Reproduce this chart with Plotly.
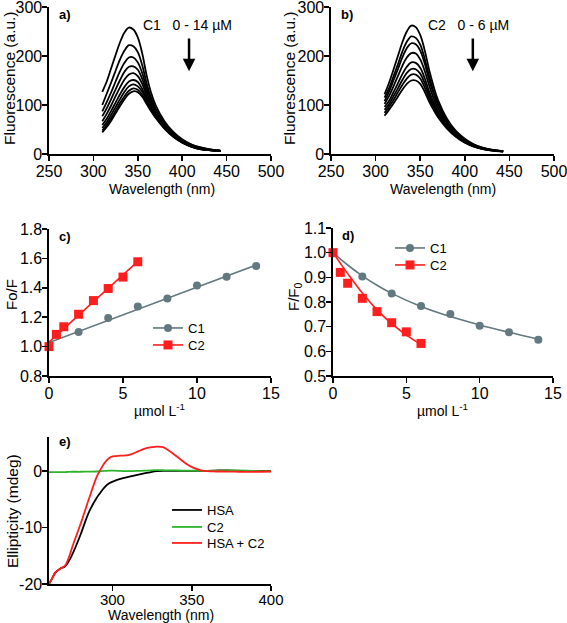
import plotly.graph_objects as go

W, H = 567, 623
FONT = "Liberation Sans, Arial, sans-serif"

# ---------------- Data ----------------
# Panel a: C1 titration emission spectra (0 - 14 uM)
wl = [310, 315, 320, 325, 330, 335, 340, 345, 350, 355, 360, 365, 370, 380, 390, 400, 410, 420, 430, 443]
a_spectra = [
    [127, 148, 175, 202, 228, 248, 258, 254, 238, 205, 160, 125, 100, 67, 45, 30, 20, 14, 10, 7],
    [100, 123, 146, 170, 193, 211, 222, 220, 208, 181, 144, 115, 93, 63, 42, 28, 19, 13, 9.5, 7],
    [87, 106, 126, 148, 169, 186, 197, 197, 187, 165, 134, 108, 88, 60, 40.5, 27, 18, 12, 9, 6.5],
    [77, 93, 112, 132, 151, 168, 178, 179, 172, 153, 126, 102, 85, 58, 39, 26, 17, 11.6, 8.8, 6.4],
    [67, 82, 99, 118, 136, 152, 162, 165, 159, 143, 119, 98, 82, 56, 38, 25, 16.5, 11, 8.6, 6.3],
    [59, 72, 88, 105, 122, 137, 148, 151, 147, 133, 113, 94, 79, 55, 37, 24, 16, 10.7, 8.4, 6.2],
    [53, 65, 80, 96, 112, 127, 138, 142, 138, 127, 108, 91, 77, 54, 36, 24, 15.5, 10.4, 8.2, 6.1],
    [48, 59, 73, 88.5, 104, 118, 129, 134, 131, 121, 105, 89, 75, 53, 35.5, 23.3, 15.2, 10.2, 8.1, 6],
    [44, 55, 68, 83, 98, 112, 123, 128, 126, 117, 102, 87, 74, 52, 35, 23, 15, 10, 8, 6],
]

# Panel b: C2 titration emission spectra (0 - 6 uM)
b_spectra = [
    [122, 145, 172, 200, 228, 250, 262, 259, 243, 212, 172, 138, 110, 72, 47, 31, 20, 13, 9, 6],
    [115, 134, 158, 183, 209, 229, 240, 237, 223, 195, 159, 128, 103, 68, 45, 29, 19, 12.4, 8.6, 5.8],
    [108, 127, 150, 173, 197, 216, 226, 224, 211, 185, 151, 123, 99, 66, 43, 28, 18.4, 12, 8.4, 5.7],
    [102, 118, 138, 159, 180, 197, 206, 205, 193, 170, 140, 114, 93, 62, 41, 27, 17.5, 11.5, 8, 5.5],
    [96, 108, 126, 144, 163, 178, 187, 186, 176, 155, 128, 106, 87, 59, 39, 25.6, 16.7, 11, 7.7, 5.3],
    [90, 101.5, 117.5, 134, 151, 165.5, 173.5, 173, 164, 145, 121, 100, 82, 56, 37.5, 24.7, 16, 10.6, 7.4, 5.2],
    [84, 96, 110, 126, 141, 154, 162, 162, 154, 136, 114, 95, 79, 54, 36, 24, 15.5, 10.3, 7.2, 5.1],
    [78, 90, 103, 117, 131, 143, 150, 150, 143, 127, 107, 90, 75, 52, 35, 23, 15, 10, 7, 5],
]

# Panel c: Stern-Volmer Fo/F
c1_conc = [0, 2, 4, 6, 8, 10, 12, 14]
c1_f0f = [1.00, 1.10, 1.195, 1.272, 1.327, 1.415, 1.476, 1.548]
c1_fit_x = [0, 14]
c1_fit_y = [1.028, 1.555]
c2_conc = [0, 0.5, 1, 2, 3, 4, 5, 6]
c2_f0f = [1.00, 1.083, 1.135, 1.22, 1.313, 1.395, 1.473, 1.577]
c2_fit_x = [0, 6]
c2_fit_y = [1.03, 1.58]

# Panel d: F/F0
c1_ff0 = [1.00, 0.903, 0.834, 0.784, 0.751, 0.704, 0.677, 0.647]
c1_ff0_fit_x = [0, 1, 2, 3, 4, 6, 8, 10, 12, 14]
c1_ff0_fit_y = [1.0, 0.95, 0.906, 0.868, 0.835, 0.782, 0.741, 0.707, 0.677, 0.649]
c2_ff0 = [1.00, 0.92, 0.876, 0.815, 0.761, 0.716, 0.679, 0.632]
c2_ff0_fit_x = [0, 0.5, 1, 2, 3, 4, 5, 6]
c2_ff0_fit_y = [1.0, 0.957, 0.915, 0.836, 0.768, 0.712, 0.666, 0.628]

# Panel e: CD spectra
cd_wl = [260, 262, 264, 267, 270, 272, 275, 280, 285, 290, 292, 295, 298, 301, 305, 310, 315, 320, 325,
         328, 332, 335, 340, 344, 348, 352, 356, 360, 365, 370, 375, 380, 390, 400]
cd_hsa = [-20, -19, -18, -17.3, -16.9, -16.2, -14.6, -11.2, -7.4, -4.8, -4.0, -2.9, -2.2, -1.8, -1.4, -1.05,
          -0.75, -0.45, -0.15, -0.05, 0, 0, 0, 0, 0, 0, 0, 0, 0.05, 0.1, 0.05, 0, 0, 0]
cd_c2 = [-0.2, -0.2, -0.2, -0.2, -0.2, -0.18, -0.15, -0.15, -0.12, -0.1, -0.05, 0, 0.05, 0.05, 0, -0.05,
         0, 0.05, 0.1, 0.15, 0.12, 0.1, 0.1, 0.05, 0.05, 0.05, 0, 0, 0.05, 0.05, 0.1, 0.1, 0, -0.05]
cd_mix = [-20, -19, -18, -17.3, -16.8, -15.7, -13.2, -9.3, -5.1, -1.1, 0, 1.4, 2.3, 2.6, 2.7, 2.8,
          3.3, 3.9, 4.2, 4.3, 4.2, 3.7, 2.7, 1.8, 1.0, 0.45, 0.1, -0.05, -0.1, -0.1, -0.12, -0.15, -0.15, -0.1]

GRAY = "#62797f"
RED = "#ff1e1e"
GREEN = "#2cb52c"

fig = go.Figure()

# ---- a ----
for s in a_spectra:
    fig.add_trace(go.Scatter(x=wl, y=s, mode="lines", line=dict(color="black", width=1.8, shape="spline"),
                             xaxis="x", yaxis="y", showlegend=False, hoverinfo="skip"))
# ---- b ----
for s in b_spectra:
    fig.add_trace(go.Scatter(x=wl, y=s, mode="lines", line=dict(color="black", width=1.8, shape="spline"),
                             xaxis="x2", yaxis="y2", showlegend=False, hoverinfo="skip"))

# ---- c ----
fig.add_trace(go.Scatter(x=c1_fit_x, y=c1_fit_y, mode="lines", line=dict(color=GRAY, width=1.6),
                         xaxis="x3", yaxis="y3", showlegend=False))
fig.add_trace(go.Scatter(x=c1_conc, y=c1_f0f, mode="markers", marker=dict(color=GRAY, size=8, symbol="circle"),
                         xaxis="x3", yaxis="y3", showlegend=False, cliponaxis=False))
fig.add_trace(go.Scatter(x=c2_fit_x, y=c2_fit_y, mode="lines", line=dict(color=RED, width=1.6),
                         xaxis="x3", yaxis="y3", showlegend=False))
fig.add_trace(go.Scatter(x=c2_conc, y=c2_f0f, mode="markers", marker=dict(color=RED, size=9, symbol="square"),
                         xaxis="x3", yaxis="y3", showlegend=False, cliponaxis=False))
fig.add_trace(go.Scatter(x=[None], y=[None], mode="lines+markers", name="C1",
                         line=dict(color=GRAY, width=1.6), marker=dict(color=GRAY, size=8, symbol="circle"),
                         xaxis="x3", yaxis="y3", legend="legend"))
fig.add_trace(go.Scatter(x=[None], y=[None], mode="lines+markers", name="C2",
                         line=dict(color=RED, width=1.6), marker=dict(color=RED, size=9, symbol="square"),
                         xaxis="x3", yaxis="y3", legend="legend2"))

# ---- d ----
fig.add_trace(go.Scatter(x=c1_ff0_fit_x, y=c1_ff0_fit_y, mode="lines", line=dict(color=GRAY, width=1.6, shape="spline"),
                         xaxis="x4", yaxis="y4", showlegend=False))
fig.add_trace(go.Scatter(x=c1_conc, y=c1_ff0, mode="markers", marker=dict(color=GRAY, size=8, symbol="circle"),
                         xaxis="x4", yaxis="y4", showlegend=False, cliponaxis=False))
fig.add_trace(go.Scatter(x=c2_ff0_fit_x, y=c2_ff0_fit_y, mode="lines", line=dict(color=RED, width=1.6, shape="spline"),
                         xaxis="x4", yaxis="y4", showlegend=False))
fig.add_trace(go.Scatter(x=c2_conc, y=c2_ff0, mode="markers", marker=dict(color=RED, size=9, symbol="square"),
                         xaxis="x4", yaxis="y4", showlegend=False, cliponaxis=False))
fig.add_trace(go.Scatter(x=[None], y=[None], mode="lines+markers", name="C1",
                         line=dict(color=GRAY, width=1.6), marker=dict(color=GRAY, size=8, symbol="circle"),
                         xaxis="x4", yaxis="y4", legend="legend3"))
fig.add_trace(go.Scatter(x=[None], y=[None], mode="lines+markers", name="C2",
                         line=dict(color=RED, width=1.6), marker=dict(color=RED, size=9, symbol="square"),
                         xaxis="x4", yaxis="y4", legend="legend4"))

# ---- e ----
fig.add_trace(go.Scatter(x=cd_wl, y=cd_hsa, mode="lines", name="HSA", line=dict(color="black", width=1.8, shape="spline"),
                         xaxis="x5", yaxis="y5", legend="legend5"))
fig.add_trace(go.Scatter(x=cd_wl, y=cd_c2, mode="lines", name="C2", line=dict(color=GREEN, width=1.8, shape="spline"),
                         xaxis="x5", yaxis="y5", legend="legend6"))
fig.add_trace(go.Scatter(x=cd_wl, y=cd_mix, mode="lines", name="HSA + C2", line=dict(color=RED, width=1.8, shape="spline"),
                         xaxis="x5", yaxis="y5", legend="legend7"))


def px_x(p):
    return p / W


def px_y(p):
    return 1 - p / H


def ax(domain, rng, anchor, fsize=16, **kw):
    d = dict(domain=domain, range=rng, anchor=anchor, showline=True, linecolor="black", linewidth=1.6,
             ticks="outside", ticklen=5, tickwidth=1.6, tickcolor="black", showgrid=False, zeroline=False,
             automargin=False, ticklabeloverflow="allow", ticklabelstandoff=-3,
             tickfont=dict(family=FONT, size=fsize, color="black"), fixedrange=True)
    d.update(kw)
    return d


def leg(xpx, ypx):
    return dict(x=px_x(xpx), y=px_y(ypx), xanchor="left", yanchor="middle", bgcolor="rgba(0,0,0,0)",
                borderwidth=0, font=dict(family=FONT, size=13, color="black"), itemwidth=30)


xa = [px_x(49), px_x(271)]
xb = [px_x(331), px_x(554)]
xd = [px_x(333), px_x(553)]
y_top = [px_y(154), px_y(7)]
y_mid = [px_y(376), px_y(229)]
y_bot = [px_y(584), px_y(437)]

layout = dict(
    width=W, height=H, margin=dict(l=0, r=0, t=0, b=0, autoexpand=False),
    paper_bgcolor="white", plot_bgcolor="white",
    font=dict(family=FONT, size=14, color="black"),
    xaxis=ax(xa, [250, 500], "y", tick0=250, dtick=50),
    yaxis=ax(y_top, [0, 300], "x", tick0=0, dtick=100),
    xaxis2=ax(xb, [250, 500], "y2", tick0=250, dtick=50),
    yaxis2=ax(y_top, [0, 300], "x2", tick0=0, dtick=100),
    xaxis3=ax(xa, [0, 15], "y3", tick0=0, dtick=5),
    yaxis3=ax(y_mid, [0.8, 1.8], "x3", tick0=0.8, dtick=0.2, tickformat=".1f"),
    xaxis4=ax(xd, [0, 15], "y4", tick0=0, dtick=5),
    yaxis4=ax([px_y(376), px_y(228)], [0.5, 1.1], "x4", tick0=0.5, dtick=0.1, tickformat=".1f"),
    xaxis5=ax(xa, [260, 400], "y5", fsize=15, tickvals=[300, 350, 400], ticklabelstandoff=-4),
    yaxis5=ax(y_bot, [-20, 6], "x5", tickvals=[-20, -10, 0], ticktext=["-20", "-10", "0"]),
    legend=leg(148, 328),
    legend2=leg(148, 345),
    legend3=leg(390, 248),
    legend4=leg(390, 265),
    legend5=leg(167, 510),
    legend6=leg(167, 527),
    legend7=leg(167, 543),
)
fig.update_layout(**layout)

ann = []


def title(text, x, y, rot=0, size=15):
    ann.append(dict(text=text, x=px_x(x), y=px_y(y), xref="paper", yref="paper", showarrow=False,
                    xanchor="center", yanchor="middle", textangle=rot, font=dict(family=FONT, size=size, color="black")))


title("Fluorescence (a.u.)", 10, 78, -90, 15.5)
title("Wavelength (nm)", 162, 189, 0, 14)
title("Fluorescence (a.u.)", 290, 78, -90, 15.5)
title("Wavelength (nm)", 443, 189, 0, 14)
title("Fo/F", 12, 295, -90, 15)
title("µmol L<sup>-1</sup>", 159, 410, 0, 14)
title("F/F<sub>0</sub>", 294, 297, -90, 15)
title("µmol L<sup>-1</sup>", 442, 410, 0, 14)
title("Ellipticity (mdeg)", 12, 511, -90, 15.5)
title("Wavelength (nm)", 161, 615, 0, 14)

# panel labels
for lab, xr, yr, xx, yy in [("a)", "x domain", "y domain", 0.036, 0.952), ("b)", "x2 domain", "y2 domain", 0.036, 0.952),
                            ("c)", "x3 domain", "y3 domain", 0.036, 0.952), ("d)", "x4 domain", "y4 domain", 0.032, 0.952),
                            ("e)", "x5 domain", "y5 domain", 0.036, 0.966)]:
    ann.append(dict(text="<b>" + lab + "</b>", x=xx, y=yy, xref=xr, yref=yr, showarrow=False,
                    xanchor="left", yanchor="middle", font=dict(family=FONT, size=13, color="black")))

# concentration labels
ann.append(dict(text="C1\u00a0\u00a0\u00a00 - 14 µM", x=405.4, y=263, xref="x", yref="y", showarrow=False,
                xanchor="center", yanchor="middle", font=dict(family=FONT, size=14, color="black")))
ann.append(dict(text="C2\u00a0\u00a0\u00a00 - 6 µM", x=404.7, y=263, xref="x2", yref="y2", showarrow=False,
                xanchor="center", yanchor="middle", font=dict(family=FONT, size=14, color="black")))
# arrows
ann.append(dict(text="", x=407.7, y=169, ax=407.7, ay=239, xref="x", yref="y", axref="x", ayref="y",
                showarrow=True, arrowhead=2, arrowsize=1, arrowwidth=2.5, arrowcolor="black"))
ann.append(dict(text="", x=409, y=169, ax=409, ay=239, xref="x2", yref="y2", axref="x2", ayref="y2",
                showarrow=True, arrowhead=2, arrowsize=1, arrowwidth=2.5, arrowcolor="black"))

fig.update_layout(annotations=ann)
fig.write_html("out.html", post_script="document.body.style.margin='0px';",
               config={"displayModeBar": False, "staticPlot": True})
